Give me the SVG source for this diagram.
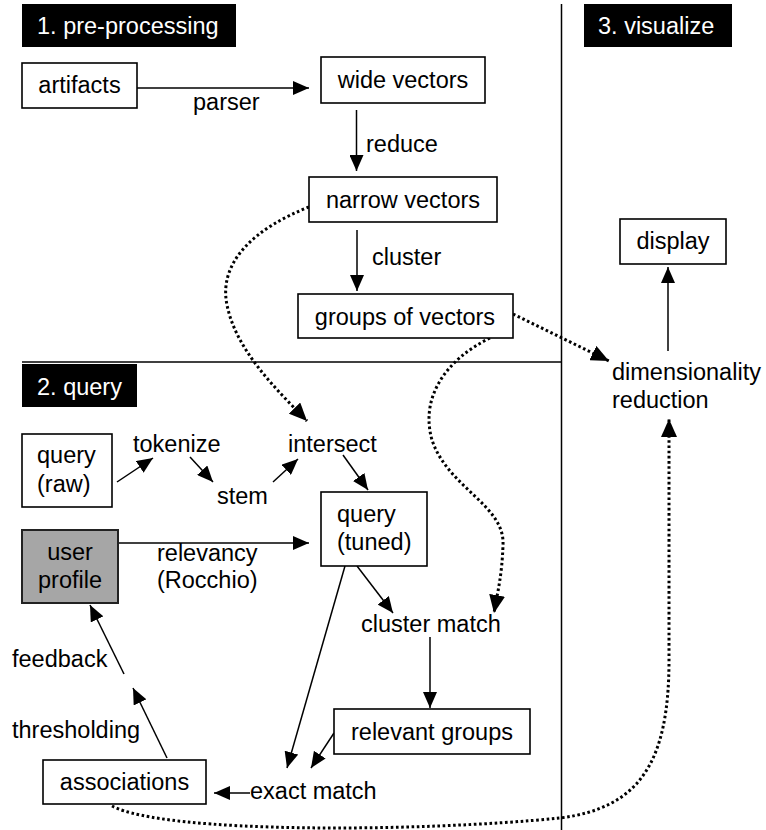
<svg xmlns="http://www.w3.org/2000/svg" width="766" height="830" viewBox="0 0 766 830">
<style>
text{font-family:"Liberation Sans",Arial,sans-serif;font-size:23.5px;fill:#000}
.hdr{fill:#fff}
.c{text-anchor:middle}
.box{fill:#fff;stroke:#000;stroke-width:1.6}
.gbox{fill:#a6a6a6;stroke:#222;stroke-width:2}
.ln{fill:none;stroke:#000;stroke-width:1.5;marker-end:url(#ah)}
.dot{fill:none;stroke:#000;stroke-width:3;stroke-dasharray:2.6 2.6;marker-end:url(#ahd)}
.sep{stroke:#000;stroke-width:1.5}
</style>
<defs>
<marker id="ah" markerUnits="userSpaceOnUse" viewBox="0 0 16 14" refX="16" refY="7" markerWidth="16" markerHeight="14" orient="auto"><path d="M0,0 L16,7 L0,14 z" fill="#000"/></marker>
<marker id="ahd" markerUnits="userSpaceOnUse" viewBox="0 0 18 16" refX="18" refY="8" markerWidth="18" markerHeight="16" orient="auto"><path d="M0,0 L18,8 L0,16 z" fill="#000"/></marker>
</defs>
<rect width="766" height="830" fill="#fff"/>
<g id="separators">
<line class="sep" x1="561.5" y1="4" x2="561.5" y2="830"/>
<line class="sep" x1="22" y1="362" x2="561.5" y2="362"/>
</g>
<g id="hdr1"><rect x="22" y="4" width="214" height="43" fill="#000"/><text class="hdr" x="37" y="34">1. pre-processing</text></g>
<g id="hdr2"><rect x="22" y="364" width="115" height="43" fill="#000"/><text class="hdr" x="37" y="395">2. query</text></g>
<g id="hdr3"><rect x="584" y="4" width="148" height="43" fill="#000"/><text class="hdr" x="598" y="34">3. visualize</text></g>
<g id="connectors">
<line class="ln" x1="137" y1="88" x2="309" y2="88"/>
<line class="ln" x1="356.5" y1="110" x2="356.5" y2="171"/>
<line class="ln" x1="357" y1="230" x2="357" y2="291"/>
<line class="ln" x1="668" y1="351" x2="668" y2="267"/>
<line class="ln" x1="117" y1="482" x2="153" y2="458"/>
<line class="ln" x1="190" y1="457" x2="213" y2="482"/>
<line class="ln" x1="273" y1="482" x2="298" y2="459"/>
<line class="ln" x1="343" y1="455" x2="368" y2="490"/>
<line class="ln" x1="118" y1="543" x2="309" y2="543"/>
<line class="ln" x1="357" y1="566" x2="393" y2="613"/>
<line class="ln" x1="345" y1="566" x2="287" y2="768"/>
<line class="ln" x1="430" y1="637" x2="430" y2="708"/>
<line class="ln" x1="334" y1="733" x2="311" y2="768"/>
<line class="ln" x1="250" y1="793" x2="214" y2="793"/>
<line class="ln" x1="167" y1="758" x2="133" y2="688"/>
<line class="ln" x1="124" y1="674" x2="90" y2="605"/>
<path class="dot" d="M309,207 C255,228 218,262 227,305 C236,350 275,388 307,421"/>
<path class="dot" d="M513,314 L609,361"/>
<path class="dot" d="M490,338 C445,360 420,398 432,440 C448,488 505,505 503,545 C502,575 498,590 494,613"/>
<path class="dot" d="M112,806 C165,834 420,832 560,818 C640,808 669,762 669,660 L669,419"/>
</g>
<g id="artifacts"><rect class="box" x="22" y="63" width="115" height="45"/><text class="c" x="79.5" y="93">artifacts</text></g>
<g id="wide-vectors"><rect class="box" x="321" y="57" width="164" height="46"/><text class="c" x="403" y="88">wide vectors</text></g>
<g id="narrow-vectors"><rect class="box" x="309" y="177" width="188" height="45"/><text class="c" x="403" y="208">narrow vectors</text></g>
<g id="groups-of-vectors"><rect class="box" x="298" y="294" width="215" height="44"/><text class="c" x="405" y="325">groups of vectors</text></g>
<g id="display"><rect class="box" x="620" y="219" width="106" height="45"/><text class="c" x="673" y="249">display</text></g>
<g id="dimensionality-reduction"><text x="612" y="380">dimensionality</text><text x="612" y="408">reduction</text></g>
<g id="query-raw"><rect class="box" x="22" y="434" width="90" height="73"/><text x="37" y="463">query</text><text x="37" y="492">(raw)</text></g>
<g id="tokenize"><text x="133" y="452">tokenize</text></g>
<g id="stem"><text x="217" y="504">stem</text></g>
<g id="intersect"><text x="288" y="452">intersect</text></g>
<g id="user-profile"><rect class="gbox" x="22" y="530" width="96" height="73"/><text class="c" x="70" y="560">user</text><text class="c" x="70" y="588">profile</text></g>
<g id="query-tuned"><rect class="box" x="321" y="492" width="106" height="74"/><text x="337" y="522">query</text><text x="337" y="550">(tuned)</text></g>
<g id="cluster-match"><text x="361" y="632">cluster match</text></g>
<g id="relevant-groups"><rect class="box" x="334" y="709" width="196" height="45"/><text class="c" x="432" y="740">relevant groups</text></g>
<g id="exact-match"><text x="250" y="799">exact match</text></g>
<g id="associations"><rect class="box" x="43" y="760" width="163" height="44"/><text class="c" x="124.5" y="790">associations</text></g>
<g id="labels">
<text x="193" y="110">parser</text>
<text x="366" y="152">reduce</text>
<text x="372" y="265">cluster</text>
<text x="157" y="561">relevancy</text>
<text x="157" y="588">(Rocchio)</text>
<text x="12" y="667">feedback</text>
<text x="12" y="738">thresholding</text>
</g>
</svg>
